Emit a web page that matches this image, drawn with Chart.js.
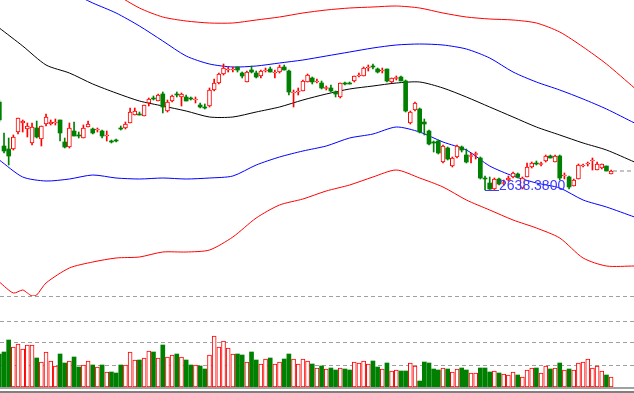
<!DOCTYPE html>
<html>
<head>
<meta charset="utf-8">
<script src="https://cdn.jsdelivr.net/npm/chart.js@4.4.1/dist/chart.umd.min.js"></script>
<style>
body { margin: 0; background: #fff; }
#wrap { position: relative; width: 634px; height: 393px; overflow: hidden; }
#kline { position: absolute; left: 0; top: 0; }
#vol { position: absolute; left: 0; top: 296px; }
.base1 { position: absolute; left: 0; top: 387px; width: 634px; height: 2px; background: #a0a0a0; }
.base2 { position: absolute; left: 0; top: 391px; width: 634px; height: 2px; background: #808080; }
</style>
</head>
<body>
<div id="wrap">
  <canvas id="kline" width="634" height="296"></canvas>
  <canvas id="vol" width="634" height="91"></canvas>
  <div class="base1"></div>
  <div class="base2"></div>
</div>
<script>
// velas (abertura, maxima, minima, fechamento)
var abertura = [2814,2726,2720,2720,2754,2772,2760,2732,2762,2740,
  2770,2770,2772,2778,2734,2724,2756,2748,2742,2764,
  2760,2758,2756,2746,2736,2738,2762,2762,2772,2788,
  2790,2786,2812,2822,2816,2830,2796,2816,2830,2824,
  2824,2822,2818,2808,2804,2806,2838,2852,2870,2878,
  2878,2884,2872,2854,2878,2872,2866,2876,2880,2872,
  2874,2884,2876,2832,2834,2836,2854,2862,2854,2852,
  2841,2842,2834,2824,2852,2852,2856,2866,2866,2882,
  2886,2880,2876,2880,2854,2861,2864,2856,2772,2798,
  2800,2774,2756,2734,2736,2694,2722,2686,2704,2724,
  2708,2705,2709,2702,2662,2652,2640,2660,2651,2658,
  2664,2670,2642,2664,2684,2692,2689,2696,2706,2694,
  2706,2666,2664,2646,2660,2686,2690,2696,2678,2682,
  2686,2670];
var maxima = [2818,2752,2742,2748,2782,2778,2772,2772,2776,2766,
  2790,2778,2780,2778,2742,2772,2774,2754,2768,2776,
  2762,2762,2758,2756,2738,2740,2766,2774,2802,2802,
  2794,2808,2822,2826,2830,2834,2818,2828,2834,2832,
  2828,2824,2824,2812,2810,2842,2860,2872,2890,2884,
  2884,2884,2874,2876,2886,2876,2878,2882,2884,2878,
  2888,2888,2878,2838,2842,2858,2870,2864,2860,2856,
  2846,2848,2836,2852,2854,2854,2866,2872,2884,2888,
  2890,2882,2882,2880,2862,2866,2866,2858,2796,2814,
  2802,2780,2758,2736,2738,2728,2724,2704,2728,2726,
  2720,2712,2714,2704,2666,2664,2662,2662,2658,2666,
  2674,2672,2664,2692,2694,2696,2694,2708,2708,2708,
  2708,2672,2666,2660,2690,2690,2694,2702,2694,2690,
  2686,2678];
var minima = [2774,2712,2688,2718,2750,2754,2744,2728,2742,2726,
  2766,2768,2768,2736,2722,2722,2746,2742,2742,2764,
  2750,2754,2742,2736,2732,2734,2758,2760,2772,2788,
  2788,2786,2806,2818,2816,2792,2794,2814,2824,2806,
  2816,2818,2812,2802,2800,2804,2836,2850,2868,2874,
  2874,2874,2862,2854,2872,2862,2862,2874,2874,2862,
  2872,2878,2828,2804,2828,2836,2854,2850,2852,2840,
  2838,2834,2824,2822,2848,2850,2854,2864,2866,2876,
  2880,2872,2872,2854,2852,2858,2856,2794,2770,2796,
  2752,2748,2728,2714,2710,2692,2698,2684,2702,2714,
  2692,2692,2700,2660,2638.38,2639,2639,2648,2648,2656,
  2662,2662,2640,2664,2682,2688,2686,2694,2702,2694,
  2658,2660,2640,2646,2660,2684,2686,2678,2678,2680,
  2676,2670];
var fechamento = [2778,2716,2706,2744,2782,2776,2766,2764,2744,2766,
  2784,2774,2774,2752,2724,2762,2746,2746,2762,2770,
  2752,2760,2746,2748,2734,2736,2760,2770,2794,2796,
  2788,2808,2820,2820,2828,2804,2814,2826,2828,2830,
  2816,2820,2820,2804,2802,2838,2852,2870,2882,2880,
  2880,2878,2866,2874,2874,2864,2876,2878,2874,2874,
  2884,2878,2834,2834,2836,2856,2868,2854,2856,2842,
  2843,2836,2830,2852,2850,2850,2866,2868,2882,2884,
  2884,2874,2878,2856,2862,2863,2856,2796,2794,2812,
  2754,2770,2730,2732,2712,2726,2700,2702,2726,2718,
  2694,2707,2711,2662,2660,2640,2660,2650,2653,2662,
  2672,2664,2662,2684,2692,2690,2691,2706,2702,2706,
  2662,2668,2644,2658,2688,2688,2692,2698,2690,2690,
  2676,2676];
var volume = [33,35,47,40,43,38,42,42,29,25,
  35,26,21,33,24,26,30,20,22,26,
  22,20,22,15,15,14,22,22,35,27,
  27,29,36,35,29,42,30,32,33,30,
  27,22,22,21,18,32,51,40,46,39,
  33,33,32,25,35,27,23,28,29,23,
  25,28,33,28,23,28,26,23,19,21,
  18,19,17,19,18,17,25,24,26,23,
  26,20,18,24,16,17,16,16,24,21,
  6,25,24,18,17,19,18,15,18,19,
  17,14,14,19,19,15,16,14,13,12,
  15,12,10,17,19,19,14,21,18,19,
  24,17,18,17,24,25,28,19,21,16,
  12,10];

// bandas (media, canal interno azul, canal externo vermelho)
var bandaX = [0,5,10,15,20,25,30,35,40,45,50,55,60,65,70,75,80,85,90,95,100,105,110,115,120,125,130,136];
var media = [2962,2926,2888,2872,2850,2832,2816,2806,2796,2784,2784,2794,2804,2818,2830,2840,2846,2852,2854,2842,2824,2804,2784,2764,2748,2732,2718,2694];
var azulSup = [3080,3064,3050,3034,3012,2992,2966,2936,2906,2890,2884,2886,2892,2898,2906,2914,2922,2928,2930,2928,2920,2902,2874,2854,2838,2820,2800,2772];
var azulInf = [2698,2664,2656,2660,2668,2662,2660,2662,2660,2662,2666,2688,2704,2716,2726,2742,2750,2764,2754,2734,2718,2686,2666,2652,2642,2618,2604,2584];
var vermSup = [3150,3130,3110,3090,3068,3030,3002,2984,2976,2972,2972,2978,2984,2992,2998,3002,3004,3006,3002,2992,2984,2980,2978,2972,2954,2924,2890,2842];
var vermInfX = [0,3,5,6,7,8,10,15,20,25,30,35,40,45,50,55,60,65,70,75,80,85,90,95,100,105,110,115,120,125,130,136];
var vermInf = [2454,2432,2438,2432,2426,2428,2452,2482,2494,2502,2504,2514,2514,2518,2544,2582,2608,2620,2636,2648,2664,2678,2662,2644,2618,2598,2578,2562,2542,2502,2486,2486];

var gradeVolume = [22, 44, 66, 91];

var VERDE = '#008000';
var VERMELHO = '#ff0000';
var xMin = 0.14, xMax = 135.9;

var sobe = fechamento.map(function (c, i) { return c >= abertura[i]; });
var corVela = sobe.map(function (s) { return s ? VERMELHO : VERDE; });
var fundoVela = sobe.map(function (s) { return s ? '#ffffff' : VERDE; });
var bordaVela = sobe.map(function (s) { return s ? 1 : 0; });

function pontos(xs, ys) {
    return xs.map(function (x, i) { return { x: x, y: ys[i] }; });
}

function linha(xs, ys, cor) {
    return {
        type: 'line',
        data: pontos(xs, ys),
        borderColor: cor,
        borderWidth: 1,
        pointRadius: 0,
        tension: 0.25,
        order: 3
    };
}

// rotulo da minima com o tracinho azul
var rotuloMinimo = {
    id: 'rotuloMinimo',
    afterDatasetsDraw: function (chart) {
        var k = minima.indexOf(Math.min.apply(null, minima));
        var x = chart.scales.x.getPixelForValue(k);
        var y = chart.scales.y.getPixelForValue(minima[k]);
        var ctx = chart.ctx;
        ctx.save();
        ctx.strokeStyle = '#3c3cff';
        ctx.lineWidth = 1;
        ctx.beginPath();
        ctx.moveTo(x, Math.round(y) + 0.5);
        ctx.lineTo(x + 14, Math.round(y) + 0.5);
        ctx.stroke();
        ctx.fillStyle = '#3c3cff';
        ctx.font = '14px "Liberation Sans", Arial, sans-serif';
        ctx.textBaseline = 'alphabetic';
        ctx.fillText(minima[k].toFixed(4), x + 14, y + 0.5);
        ctx.restore();
    }
};

var ultimo = fechamento.length - 1;

new Chart(document.getElementById('kline'), {
    type: 'bar',
    data: {
        datasets: [
            linha(bandaX, media, '#000000'),
            linha(bandaX, azulSup, '#0000ff'),
            linha(bandaX, azulInf, '#0000ff'),
            linha(bandaX, vermSup, VERMELHO),
            linha(vermInfX, vermInf, VERMELHO),
            {
                type: 'line',
                data: [{ x: ultimo + 0.4, y: fechamento[ultimo] }, { x: xMax, y: fechamento[ultimo] }],
                borderColor: '#888888',
                borderWidth: 1,
                borderDash: [4, 3],
                pointRadius: 0,
                order: 3
            },
            {
                // pavios
                data: abertura.map(function (o, i) { return { x: i, y: [minima[i], maxima[i]] }; }),
                backgroundColor: corVela,
                borderWidth: 0,
                barThickness: 1,
                grouped: false,
                minBarLength: 1,
                order: 2
            },
            {
                // corpos
                data: abertura.map(function (o, i) { return { x: i, y: [o, fechamento[i]] }; }),
                backgroundColor: fundoVela,
                borderColor: corVela,
                borderWidth: bordaVela,
                borderSkipped: false,
                barThickness: 4,
                grouped: false,
                minBarLength: 1,
                order: 1
            }
        ]
    },
    options: {
        responsive: false,
        animation: false,
        layout: { padding: 0 },
        plugins: { legend: { display: false }, tooltip: { enabled: false } },
        scales: {
            x: { type: 'linear', min: xMin, max: xMax, offset: false, display: false },
            y: { min: 2426, max: 3018, display: false }
        }
    },
    plugins: [rotuloMinimo]
});

new Chart(document.getElementById('vol'), {
    type: 'bar',
    data: {
        datasets: [{
            data: volume.map(function (v, i) { return { x: i, y: v }; }),
            backgroundColor: fundoVela,
            borderColor: corVela,
            borderWidth: bordaVela,
            borderSkipped: false,
            barThickness: 4,
            grouped: false
        }]
    },
    options: {
        responsive: false,
        animation: false,
        layout: { padding: 0 },
        plugins: { legend: { display: false }, tooltip: { enabled: false } },
        scales: {
            x: { type: 'linear', min: xMin, max: xMax, offset: false, display: false },
            y: {
                min: 0,
                max: 91,
                afterBuildTicks: function (s) {
                    s.ticks = gradeVolume.map(function (v) { return { value: v }; });
                },
                afterFit: function (s) { s.width = 0; },
                ticks: { display: false },
                border: { display: false, dash: [4, 3] },
                grid: { color: '#a0a0a0', lineWidth: 1, drawTicks: false }
            }
        }
    }
});
</script>
</body>
</html>
